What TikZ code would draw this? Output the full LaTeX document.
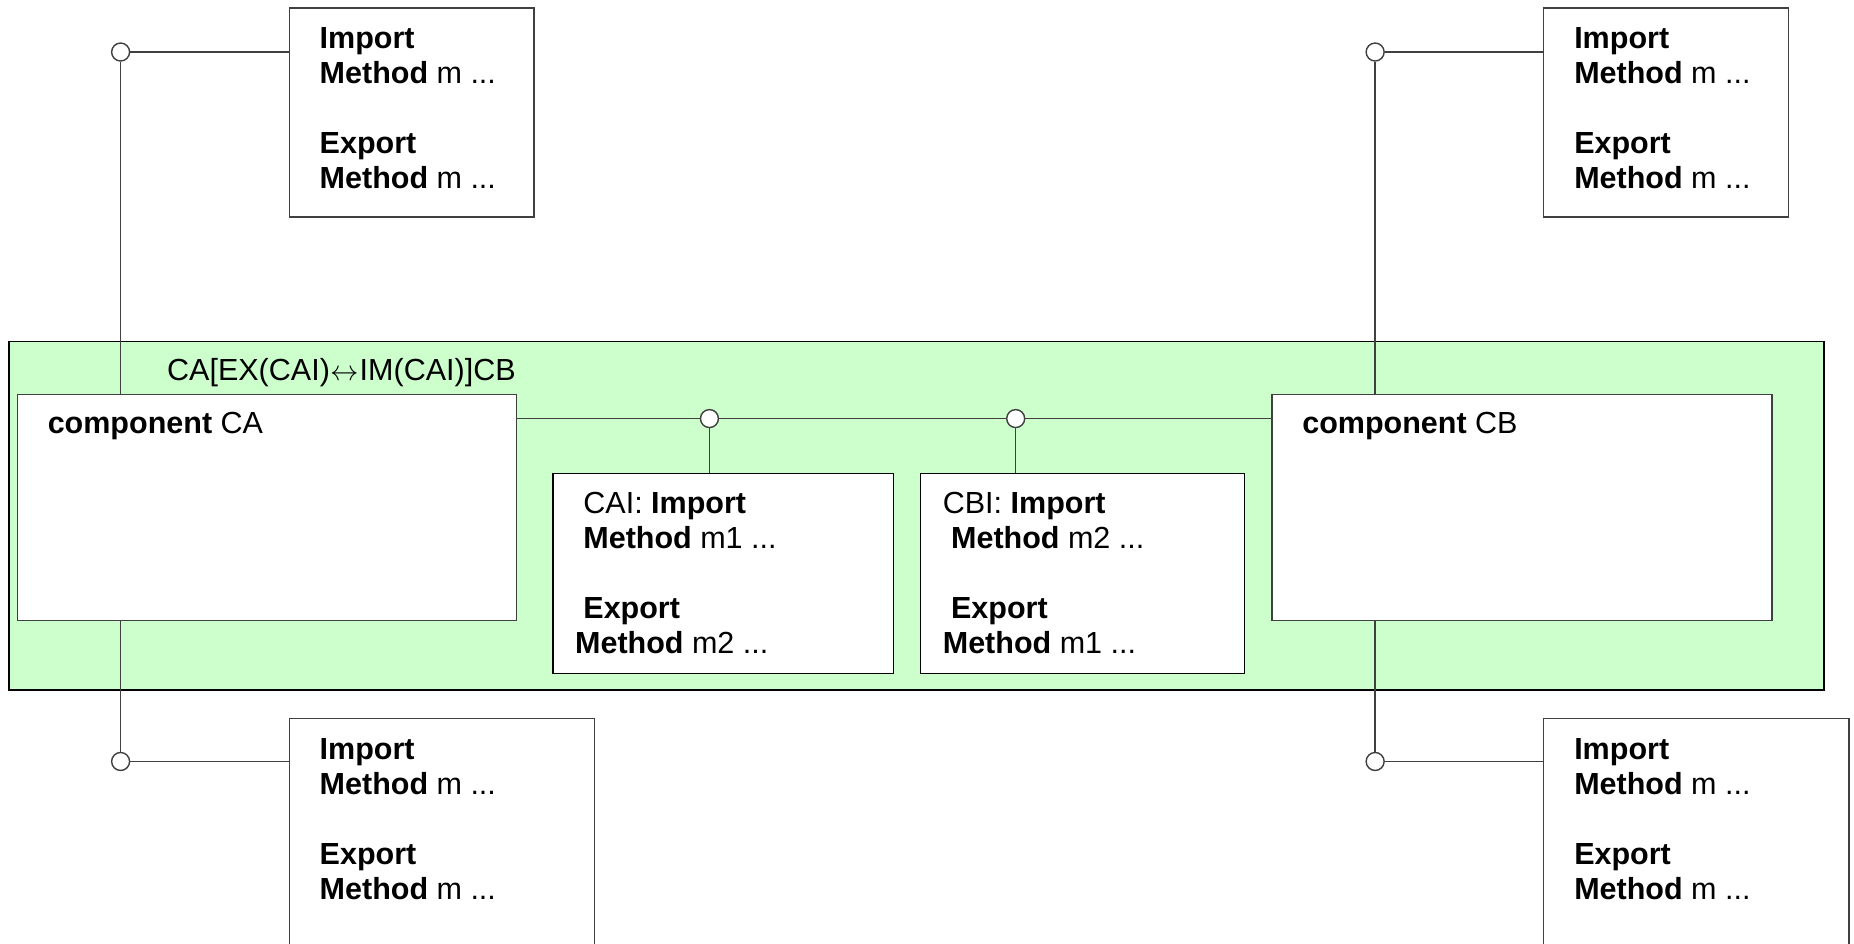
\documentclass[tikz,border=0pt]{standalone}
\usepackage{fontspec}
\setmainfont{Liberation Sans}
\usetikzlibrary{positioning}
\definecolor{ctxgreen}{HTML}{CCFFCC}
\definecolor{wiregray}{HTML}{404040}
\tikzset{
  box/.style={draw=wiregray, fill=white, line width=0.6pt, anchor=north west, inner sep=0pt},
  iface/.style={circle, draw=wiregray, fill=white, line width=0.6pt, inner sep=0pt, minimum size=7.6pt},
  txt/.style={anchor=north west, inner sep=0pt, align=left},
  wire/.style={draw=wiregray, line width=0.6pt}
}
\newcommand{\lead}{\hspace*{3.5pt}}

\begin{document}
\begin{tikzpicture}[x=0.5pt,y=-0.5pt,font=\fontsize{12.9}{14.8}\selectfont]
\useasboundingbox (0,0) rectangle (1568,798);
\clip (0,0) rectangle (1568,798);

% composition
\node[box,draw=black,fill=ctxgreen,minimum width=767.5pt,minimum height=147.5pt] (ctx) at (7,288) {};
\node[txt] (ctxlabel) at (141,303) {CA[EX(CAI)\kern0.3pt$\leftrightarrow$\kern0.3pt IM(CAI)]CB};

% components
\node[box,minimum width=211pt,minimum height=95.5pt] (ca) at (14,333) {};
\node[box,minimum width=211.5pt,minimum height=95.5pt] (cb) at (1075,333) {};
\node[txt] (catext) at (40,348) {\textbf{component} CA};
\node[txt] (cbtext) at (1101,348) {\textbf{component} CB};

% inner interfaces
\node[box,draw=black,minimum width=144pt,minimum height=84.5pt] (cai) at (467,400) {};
\node[box,draw=black,minimum width=137pt,minimum height=84.5pt] (cbi) at (778,400) {};
\node[txt] (caitext) at (486,416) {\lead CAI: \textbf{Import}\\ \lead\textbf{Method} m1 ...\\[14.8pt] \lead\textbf{Export}\\ \textbf{Method} m2 ...};
\node[txt] (cbitext) at (797,416) {CBI: \textbf{Import}\\ \lead\textbf{Method} m2 ...\\[14.8pt] \lead\textbf{Export}\\ \textbf{Method} m1 ...};

% outer interfaces
\node[box,minimum width=103.5pt,minimum height=88.5pt] (tl) at (244,6) {};
\node[box,minimum width=103.5pt,minimum height=88.5pt] (tr) at (1305,6) {};
\node[box,minimum width=129pt,minimum height=120pt] (bl) at (244,607) {};
\node[box,minimum width=129pt,minimum height=120pt] (br) at (1305,607) {};
\node[txt] (tltext) at (270,23) {\textbf{Import}\\ \textbf{Method} m ...\\[14.8pt] \textbf{Export}\\ \textbf{Method} m ...};
\node[txt] (trtext) at (1331,23) {\textbf{Import}\\ \textbf{Method} m ...\\[14.8pt] \textbf{Export}\\ \textbf{Method} m ...};
\node[txt] (bltext) at (270,624) {\textbf{Import}\\ \textbf{Method} m ...\\[14.8pt] \textbf{Export}\\ \textbf{Method} m ...};
\node[txt] (brtext) at (1331,624) {\textbf{Import}\\ \textbf{Method} m ...\\[14.8pt] \textbf{Export}\\ \textbf{Method} m ...};

% sockets
\node[iface] (p1) at (102,44) {};
\node[iface] (p2) at (1163,44) {};
\node[iface] (p3) at (600,354) {};
\node[iface] (p4) at (859,354) {};
\node[iface] (p5) at (102,644) {};
\node[iface] (p6) at (1163,644) {};

\path[wire]
(p1) edge (p1 -| tl.west)
(p1) edge (p1 |- ca.north)
(p2) edge (p2 -| tr.west)
(p2) edge (p2 |- cb.north)
(p5) edge (p5 -| bl.west)
(p5) edge (p5 |- ca.south)
(p6) edge (p6 -| br.west)
(p6) edge (p6 |- cb.south)
(p3) edge (p3 -| ca.east)
(p3) edge (p4)
(p4) edge (p4 -| cb.west)
(p3) edge (p3 |- cai.north)
(p4) edge (p4 |- cbi.north);
\end{tikzpicture}
\end{document}
